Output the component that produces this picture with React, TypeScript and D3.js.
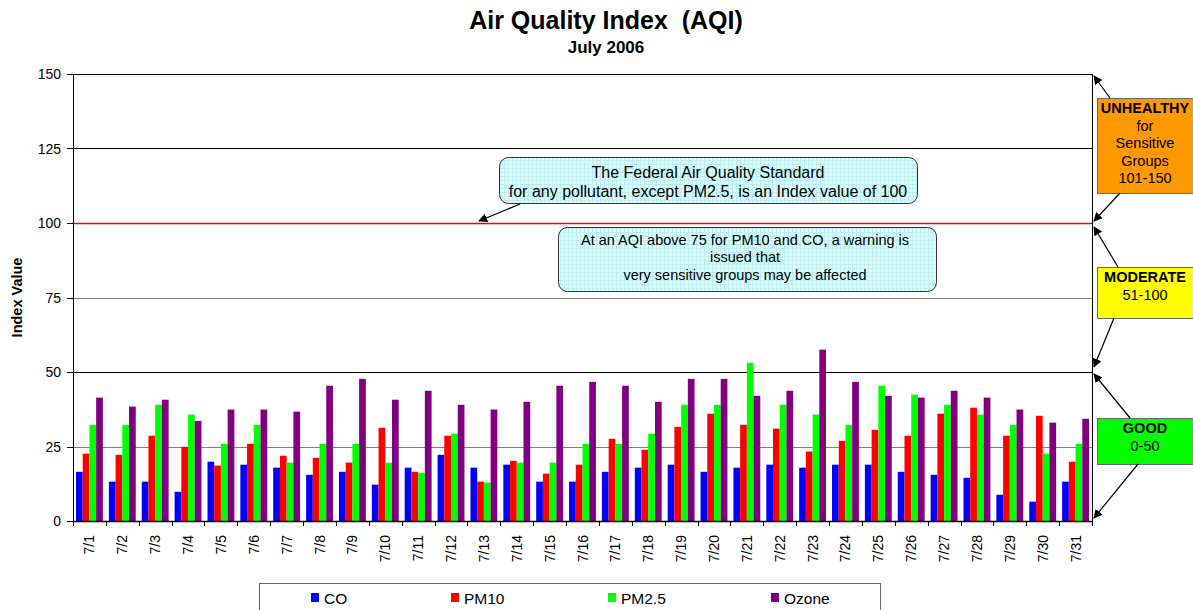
import React from 'react';
import * as d3 from 'd3';

// AQI values
const days = d3.range(1, 32).map(d => `7/${d}`);
const coValues = [16.5, 13.2, 13.2, 9.8, 19.9, 18.9, 17.9, 15.5, 16.5, 12.2, 17.9, 22.2, 17.9, 18.9, 13.2, 13.2,
    16.5, 17.9, 18.9, 16.5, 17.9, 18.9, 17.9, 18.9, 18.9, 16.5, 15.5, 14.5, 8.8, 6.5, 13.2];
const pm10Values = [22.6, 22.2, 28.6, 24.9, 18.6, 25.9, 21.9, 21.2, 19.6, 31.3, 16.5, 28.6, 13.2, 20.2, 15.9, 18.9,
    27.6, 23.9, 31.6, 36.0, 32.3, 31.0, 23.3, 26.9, 30.6, 28.6, 36.0, 38.0, 28.6, 35.3, 19.9];
const pm25Values = [32.3, 32.3, 39.0, 35.7, 25.9, 32.3, 19.6, 25.9, 25.9, 19.6, 16.2, 29.3, 12.9, 19.6, 19.6, 25.9,
    25.9, 29.3, 39.0, 39.0, 53.1, 39.0, 35.7, 32.3, 45.4, 42.4, 39.0, 35.7, 32.3, 22.6, 25.9];
const ozoneValues = [41.4, 38.4, 40.7, 33.6, 37.4, 37.4, 36.7, 45.4, 47.7, 40.7, 43.7, 39.0, 37.4, 40.0, 45.4, 46.7,
    45.4, 40.0, 47.7, 47.7, 42.0, 43.7, 57.5, 46.7, 42.0, 41.4, 43.7, 41.4, 37.4, 33.0, 34.3];

const seriesNames = ['CO', 'PM10', 'PM2.5', 'Ozone'];
const seriesColors = ['#0000ff', '#ff0000', '#00ff00', '#800080'];
const seriesValues = [coValues, pm10Values, pm25Values, ozoneValues];
const yTicks = [0, 25, 50, 75, 100, 125, 150];

const font = '"Liberation Sans", Arial, sans-serif';

const App = () => {
    const width = 1193;
    const height = 610;
    const margin = {top: 74, right: 101, bottom: 89, left: 73};
    const plotW = width - margin.left - margin.right;
    const plotH = height - margin.top - margin.bottom;

    const xScale = d3.scaleBand().domain(days).range([0, plotW]);
    const bw = xScale.bandwidth();
    const x1 = d3.scaleBand().domain(seriesNames).range([3, bw - 3]);
    const yScale = d3.scaleLinear().domain([0, 150]).range([plotH, 0]);

    const gridColor = (v: number) => v === 100 ? '#ff0000' : (v === 25 || v === 75) ? '#808080' : '#000';

    const arrows = [
        [1110, 98, 1094, 76], [1120, 193, 1094, 221],
        [1118, 267, 1094, 227], [1114, 318, 1094, 367],
        [1130, 418, 1094, 374], [1138, 464, 1094, 518],
        [520, 204, 479, 221],
    ];

    const boxes = [
        {y: 98, h: 95, fill: '#ff9900', lines: ['UNHEALTHY', 'for', 'Sensitive', 'Groups', '101-150'], base: 113},
        {y: 267, h: 51, fill: '#ffff00', lines: ['MODERATE', '51-100'], base: 282},
        {y: 418, h: 46, fill: '#00ff00', lines: ['GOOD', '0-50'], base: 433},
    ];

    const legendX = [311, 451, 608, 771];

    return (
        <div style={{position: 'absolute', left: 0, top: 0}}>
            <svg width={width} height={height} style={{display: 'block'}} fontFamily={font}>
                <defs>
                    <marker id='arr' viewBox='0 0 10 10' refX='9' refY='5' markerWidth='9' markerHeight='9'
                            orient='auto' markerUnits='userSpaceOnUse'>
                        <path d='M0,0 L10,5 L0,10 z' fill='#000'/>
                    </marker>
                    <pattern id='grid' width='4' height='4' patternUnits='userSpaceOnUse'>
                        <rect width='4' height='4' fill='#ddfcfc'/>
                        <path d='M0,0.5 H4 M0.5,0 V4' stroke='#bfeef2' strokeWidth='1'/>
                    </pattern>
                </defs>
                <rect width={width} height={height} fill='#fff'/>

                <text x={606} y={29} textAnchor='middle' fontSize='25px' fontWeight='bold'
                      style={{whiteSpace: 'pre'}}>Air Quality Index  (AQI)</text>
                <text x={606} y={53} textAnchor='middle' fontSize='17px' fontWeight='bold'>July 2006</text>

                <g transform={`translate(${margin.left},${margin.top})`}>
                    {yTicks.map(v => (
                        <g key={v}>
                            <line x1={0} x2={plotW} y1={Math.round(yScale(v)) + 0.5} y2={Math.round(yScale(v)) + 0.5}
                                  stroke={gridColor(v)} strokeWidth={v === 100 ? 1.5 : 1}/>
                            <line x1={-6} x2={0} y1={Math.round(yScale(v)) + 0.5} y2={Math.round(yScale(v)) + 0.5} stroke='#000'/>
                            <text x={-12} y={yScale(v) + 5} textAnchor='end' fontSize='14px'>{v}</text>
                        </g>
                    ))}

                    {days.map((d, i) => (
                        <g key={d} transform={`translate(${xScale(d)},0)`}>
                            {seriesValues.map((vals, s) => (
                                <rect key={s} x={x1(seriesNames[s])} y={yScale(vals[i])} width={x1.bandwidth()}
                                      height={plotH - yScale(vals[i])} fill={seriesColors[s]}/>
                            ))}
                        </g>
                    ))}

                    <line x1={0.5} x2={0.5} y1={0} y2={plotH} stroke='#000'/>
                    <line x1={plotW + 0.5} x2={plotW + 0.5} y1={0} y2={plotH} stroke='#000'/>
                    <line x1={0} x2={plotW} y1={plotH + 0.5} y2={plotH + 0.5} stroke='#000' strokeWidth={1.5}/>
                    {days.concat(['end']).map((d, i) => (
                        <line key={d} x1={Math.round(i * bw) + 0.5} x2={Math.round(i * bw) + 0.5}
                              y1={plotH} y2={plotH + 5} stroke='#000'/>
                    ))}
                    {days.map(d => (
                        <text key={d} transform={`translate(${(xScale(d) || 0) + bw / 2 + 5},${plotH + 14}) rotate(-90)`}
                              textAnchor='end' fontSize='14px'>{d}</text>
                    ))}
                </g>

                <text transform={`translate(22,${margin.top + plotH / 2}) rotate(-90)`} textAnchor='middle'
                      fontSize='14.5px' fontWeight='bold'>Index Value</text>

                {/* callouts */}
                <rect x={499.5} y={157.5} width={418} height={46} rx={9} fill='url(#grid)' stroke='#333'/>
                <text x={708} y={178} textAnchor='middle' fontSize='16px'>The Federal Air Quality Standard</text>
                <text x={708} y={197} textAnchor='middle' fontSize='16px'>for any pollutant, except PM2.5, is an Index value of 100</text>

                <rect x={558.5} y={227.5} width={378} height={64} rx={9} fill='url(#grid)' stroke='#333'/>
                <text x={745} y={245} textAnchor='middle' fontSize='14.5px'>At an AQI above 75 for PM10 and CO, a warning is</text>
                <text x={745} y={262} textAnchor='middle' fontSize='14.5px'>issued that</text>
                <text x={745} y={280} textAnchor='middle' fontSize='14.5px'>very sensitive groups may be affected</text>

                {/* AQI category boxes */}
                {boxes.map(b => (
                    <g key={b.lines[0]}>
                        <rect x={1097.5} y={b.y + 0.5} width={110} height={b.h} fill={b.fill} stroke='#666'/>
                        {b.lines.map((t, j) => (
                            <text key={j} x={1145} y={b.base + j * 17.5} textAnchor='middle' fontSize='14.5px'
                                  fontWeight={j === 0 ? 'bold' : 'normal'}>{t}</text>
                        ))}
                    </g>
                ))}

                {arrows.map((a, i) => (
                    <line key={i} x1={a[0]} y1={a[1]} x2={a[2]} y2={a[3]} stroke='#000' strokeWidth={1.2}
                          markerEnd='url(#arr)'/>
                ))}

                {/* legend */}
                <rect x={259.5} y={583.5} width={621} height={40} fill='#fff' stroke='#666'/>
                {seriesNames.map((n, i) => (
                    <g key={n}>
                        <rect x={legendX[i]} y={593} width={8} height={9} fill={seriesColors[i]}/>
                        <text x={legendX[i] + 13} y={603.5} fontSize='15.5px'>{n}</text>
                    </g>
                ))}
            </svg>
        </div>
    );
};

export default App;
